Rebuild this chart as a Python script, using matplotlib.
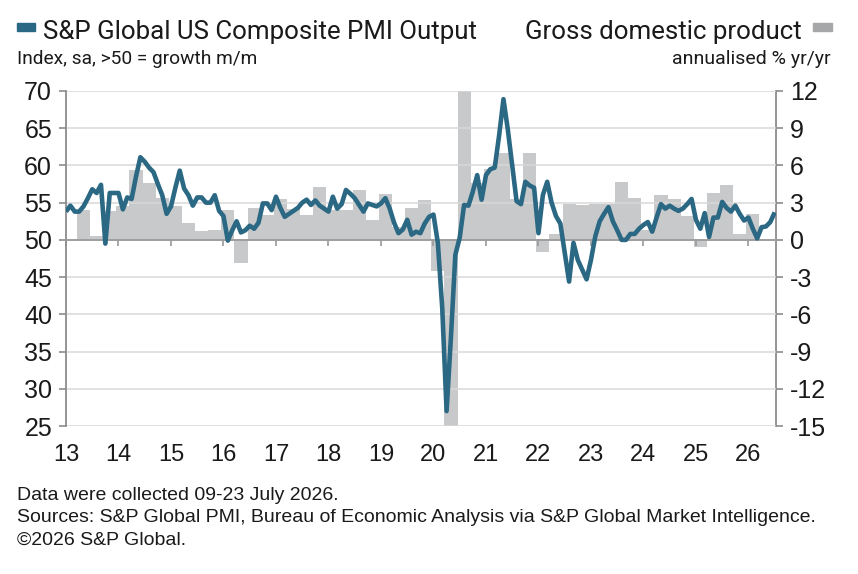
import matplotlib
matplotlib.use("Agg")
import matplotlib.pyplot as plt
from matplotlib.patches import Rectangle

plt.rcParams["axes.unicode_minus"] = False

# --- data -------------------------------------------------------------
# S&P Global US Composite PMI Output, monthly Jan 2013 .. Jul 2026
pmi_2013 = [53.8, 54.6, 53.8, 53.8, 54.5, 55.6, 56.8, 56.3, 57.4, 49.5, 56.3, 56.3]
pmi_2014 = [56.3, 54.1, 55.7, 55.5, 58.5, 61.1, 60.5, 59.7, 59.1, 57.5, 56.0, 53.5]
pmi_2015 = [54.5, 57.0, 59.3, 56.9, 56.0, 54.6, 55.7, 55.7, 55.0, 55.0, 56.0, 53.9]
pmi_2016 = [53.2, 49.9, 51.3, 52.5, 51.0, 51.3, 51.9, 51.5, 52.3, 54.9, 54.9, 54.0]
pmi_2017 = [55.8, 54.3, 53.1, 53.5, 53.9, 54.3, 55.0, 55.4, 54.7, 55.3, 54.6, 54.2]
pmi_2018 = [53.8, 55.8, 54.2, 54.8, 56.7, 56.2, 55.6, 54.7, 53.8, 54.9, 54.7, 54.5]
pmi_2019 = [54.9, 55.6, 54.2, 52.3, 50.9, 51.4, 52.7, 50.7, 51.1, 50.9, 52.2, 53.1]
pmi_2020 = [53.4, 49.6, 40.9, 27.0, 37.0, 48.0, 50.3, 54.7, 54.6, 56.5, 58.7, 55.4]
pmi_2021 = [58.7, 59.5, 59.7, 64.0, 68.9, 64.8, 60.0, 55.2, 54.8, 57.8, 57.3, 57.0]
pmi_2022 = [50.9, 56.0, 57.8, 55.0, 53.2, 52.2, 48.3, 44.4, 49.6, 47.3, 46.0, 44.7]
pmi_2023 = [47.3, 50.5, 52.5, 53.5, 54.4, 52.5, 51.3, 50.0, 50.0, 50.8, 50.8, 51.5]
pmi_2024 = [52.0, 52.4, 51.1, 53.0, 54.8, 54.2, 54.6, 54.2, 53.9, 54.2, 54.8, 55.5]
pmi_2025 = [52.7, 51.5, 53.6, 50.4, 53.0, 53.0, 55.1, 54.3, 53.8, 54.6, 53.5, 52.6]
pmi_2026 = [53.0, 51.5, 50.2, 51.7, 51.8, 52.4, 53.7]

# Gross domestic product, quarterly Q2 2013 .. Q1 2026 (annualised %)
gdp_2013 = [2.4, 0.35, 2.3]
gdp_2014 = [2.7, 5.6, 4.6, 3.4]
gdp_2015 = [2.7, 1.4, 0.7, 0.8]
gdp_2016 = [2.4, -1.9, 2.6, 2.0]
gdp_2017 = [3.3, 2.5, 2.0, 4.3]
gdp_2018 = [2.4, 2.4, 4.0, 1.6]
gdp_2019 = [3.7, 1.0, 2.6, 3.2]
gdp_2020 = [-2.5, -28.0, 35.0, 4.6]
gdp_2021 = [5.7, 7.0, 3.3, 7.0]
gdp_2022 = [-1.0, 0.5, 2.9, 2.8]
gdp_2023 = [2.9, 2.9, 4.7, 3.4]
gdp_2024 = [0.8, 3.6, 3.3, 1.9]
gdp_2025 = [-0.6, 3.8, 4.4, 0.5]
gdp_2026 = [2.1]

year_labels = ["13", "14", "15", "16", "17", "18", "19",
               "20", "21", "22", "23", "24", "25", "26"]

pmi = (pmi_2013 + pmi_2014 + pmi_2015 + pmi_2016 + pmi_2017 + pmi_2018 + pmi_2019
       + pmi_2020 + pmi_2021 + pmi_2022 + pmi_2023 + pmi_2024 + pmi_2025 + pmi_2026)
gdp = (gdp_2013 + gdp_2014 + gdp_2015 + gdp_2016 + gdp_2017 + gdp_2018 + gdp_2019
       + gdp_2020 + gdp_2021 + gdp_2022 + gdp_2023 + gdp_2024 + gdp_2025 + gdp_2026)

# month index: 0 = Jan 2013; quarterly bars centred on the middle month
months = list(range(len(pmi)))
quarters = [4 + 3 * i for i in range(len(gdp))]
year_pos = [12 * i for i in range(len(year_labels))]

# --- style ------------------------------------------------------------
LINE = "#2b6884"
BAR = "#c8c9cb"
AXIS = "#8c8c8c"
GRID = "#d8d8d8"
TXT = "#1a1a1a"
TITLE_FONT = ["Roboto", "DejaVu Sans"]
TICK_FONT = ["Liberation Sans", "DejaVu Sans"]

W, H = 858, 574
fig = plt.figure(figsize=(W / 100, H / 100), dpi=100)
fig.patch.set_facecolor("white")


def fx(px):
    return px / W


def fy(py):
    return 1 - py / H


ax = fig.add_axes([fx(66), fy(426), fx(776) - fx(66), fy(91) - fy(426)])
ax_gdp = ax.twinx()
ax.set_zorder(ax_gdp.get_zorder() + 1)
ax.patch.set_visible(False)

# bars (right axis)
ax_gdp.bar(quarters, gdp, width=3.0, color=BAR, linewidth=0, zorder=1)
ax_gdp.set_ylim(-15, 12)
ax_gdp.set_yticks(range(-15, 13, 3))

# PMI line (left axis)
ax.plot(months, pmi, color=LINE, lw=3.3, solid_joinstyle="round",
        solid_capstyle="butt", zorder=5)
ax.set_ylim(25, 70)
ax.set_yticks(range(25, 71, 5))
ax.set_xlim(0, 162.3)
ax.yaxis.grid(True, color=GRID, lw=1.1, zorder=0)

# spines
for s in ["top", "right"]:
    ax.spines[s].set_visible(False)
for s in ["top", "left", "bottom"]:
    ax_gdp.spines[s].set_visible(False)
ax.spines["left"].set_color(AXIS)
ax.spines["left"].set_linewidth(1.3)
ax_gdp.spines["right"].set_color(AXIS)
ax_gdp.spines["right"].set_linewidth(1.3)
ax.spines["bottom"].set_position(("data", 50))
ax.spines["bottom"].set_color("#9a9a9a")
ax.spines["bottom"].set_linewidth(1.3)

# ticks
ax.tick_params(axis="y", direction="out", length=5, width=1.2, color=AXIS,
               labelsize=18, pad=5, labelcolor=TXT)
ax_gdp.tick_params(axis="y", direction="out", length=5, width=1.2, color=AXIS,
                   labelsize=18, pad=5, labelcolor=TXT)
for lab in ax.get_yticklabels() + ax_gdp.get_yticklabels():
    lab.set_family(TICK_FONT)
ax.set_xticks(year_pos)
ax.tick_params(axis="x", direction="out", length=4, width=1.2, color="#9a9a9a",
               labelbottom=False)

sec = ax.secondary_xaxis("bottom")
sec.set_xticks(year_pos, year_labels)
sec.tick_params(axis="x", length=0, pad=13, labelsize=17, labelcolor=TXT)
sec.spines["bottom"].set_visible(False)
for lab in sec.get_xticklabels():
    lab.set_family(TICK_FONT)

# header / legend
fig.text(fx(43), fy(39), "S&P Global US Composite PMI Output", fontsize=18.6,
         family=TITLE_FONT, color=TXT, va="baseline", ha="left")
fig.patches.append(Rectangle((fx(17), fy(30.5)), fx(35) - fx(17), fy(22.7) - fy(30.5),
                             transform=fig.transFigure, color=LINE))
fig.text(fx(17), fy(64), "Index, sa, >50 = growth m/m", fontsize=13.8,
         family=TITLE_FONT, color=TXT, va="baseline", ha="left")

fig.text(fx(802), fy(39), "Gross domestic product", fontsize=18.6,
         family=TITLE_FONT, color=TXT, va="baseline", ha="right")
fig.patches.append(Rectangle((fx(813), fy(30.5)), fx(832) - fx(813), fy(22.7) - fy(30.5),
                             transform=fig.transFigure, color="#a6a7a9"))
fig.text(fx(831), fy(64), "annualised % yr/yr", fontsize=14,
         family=TITLE_FONT, color=TXT, va="baseline", ha="right")

# footnotes
notes = ["Data were collected 09-23 July 2026.",
         "Sources: S&P Global PMI, Bureau of Economic Analysis via S&P Global Market Intelligence.",
         "\u00a92026 S&P Global."]
for i, note in enumerate(notes):
    fig.text(fx(17), fy(496 + 22 * i), note, fontsize=14, family=TICK_FONT,
             color=TXT, va="center", ha="left")

fig.savefig("out.png", dpi=100, facecolor="white")
